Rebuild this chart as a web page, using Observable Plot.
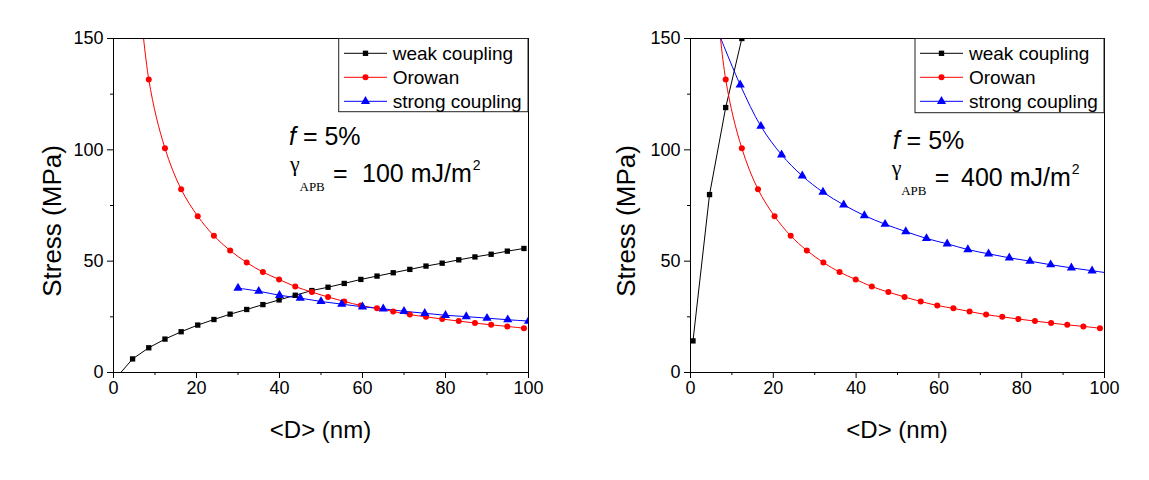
<!DOCTYPE html>
<html>
<head>
<meta charset="utf-8">
<script src="https://cdn.jsdelivr.net/npm/d3@7"></script>
<script src="https://cdn.jsdelivr.net/npm/@observablehq/plot@0.6"></script>
<style>
  html, body { margin: 0; padding: 0; background: #fff; }
  #wrap { position: relative; width: 1149px; height: 480px; background: #fff; overflow: hidden; }
  .panel { position: absolute; top: 0; }
</style>
</head>
<body>
<div id="wrap">
  <div id="left" class="panel" style="left:0px"></div>
  <div id="right" class="panel" style="left:574px"></div>
</div>
<script>
// ---------- data ----------
const dGrid = [0.6, 4.6, 8.5, 12.4, 16.3, 20.3, 24.2, 28.1, 32.1, 36.0, 39.9, 43.8, 47.8,
               51.7, 55.6, 59.6, 63.5, 67.4, 71.4, 75.3, 79.2, 83.2, 87.1, 91.0, 94.9, 98.9];

// left panel (gamma_APB = 100 mJ/m2)
const weakLeftY = [-2.5, 6.1, 11.1, 15.0, 18.3, 21.3, 23.8, 26.2, 28.3, 30.5, 32.6, 34.7, 36.8,
                   38.3, 40.0, 41.8, 43.3, 44.8, 46.3, 47.8, 49.1, 50.6, 51.9, 53.1, 54.5, 55.7];
const orowanD = dGrid.slice(1);
const orowanY = [206, 131.6, 100.7, 82.3, 70.2, 61.4, 54.8, 49.4, 45.1, 41.8, 38.6, 36.1, 33.9,
                 31.9, 30.1, 28.8, 27.4, 26.0, 25.0, 24.0, 23.1, 22.2, 21.4, 20.7, 19.9];
const strongLeftD = [30, 35, 40, 45, 50, 55, 60, 65, 70, 75, 80, 85, 90, 95, 100];
const strongLeftY = [37.9, 36.5, 34.7, 33.4, 31.9, 30.7, 29.5, 28.6, 27.5, 26.6, 25.7, 25.1, 24.4, 23.7, 23.1];

// right panel (gamma_APB = 400 mJ/m2)
const weakRightD = [0.6, 4.6, 8.5, 12.4];
const weakRightY = [14.2, 79.9, 119.0, 150.0];
const strongRightD = [7, 12, 17, 22, 27, 32, 37, 42, 47, 52, 57, 62, 67, 72, 77, 82, 87, 92, 97, 102];
const strongRightY = [151.5, 129.2, 110.6, 97.8, 88.3, 81.0, 75.3, 70.5, 66.6, 63.3, 60.2, 57.8,
                      55.2, 53.3, 51.5, 50.0, 48.4, 47.0, 45.7, 44.4];

const xMajor = [0, 20, 40, 60, 80, 100];
const xMinor = [10, 30, 50, 70, 90];
const yMajor = [0, 50, 100, 150];
const yMinor = [25, 75, 125];

const seriesNames = ["weak coupling", "Orowan", "strong coupling"];
const seriesColors = ["#000000", "#ff0000", "#0000ff"];
const seriesSymbols = ["square", "circle", "triangle"];
const seriesR = [3, 3, 3.4];

const xLabel = "<D> (nm)";
const yLabel = "Stress (MPa)";

function pts(xs, ys) { return xs.map((x, i) => ({x, y: ys[i]})); }

const SANS = "'Liberation Sans', Arial, sans-serif";
const SERIF = "'Liberation Serif', 'Times New Roman', serif";

function panel(cfg) {
  const series = [
    {data: pts(cfg.weakD, cfg.weakY), curve: "linear"},
    {data: pts(orowanD, orowanY), curve: "catmull-rom"},
    {data: pts(cfg.strongD, cfg.strongY), curve: "catmull-rom"}
  ];
  const marks = [
    Plot.axisX({ticks: xMajor, tickSize: 6, tickPadding: 3, label: null, stroke: "black"}),
    Plot.axisX({ticks: xMinor, tickSize: 3, tickFormat: () => "", label: null, stroke: "black"}),
    Plot.axisY({ticks: yMajor, tickSize: 6, tickPadding: 4, label: null, stroke: "black"}),
    Plot.axisY({ticks: yMinor, tickSize: 3, tickFormat: () => "", label: null, stroke: "black"})
  ];
  series.forEach((s, i) => {
    marks.push(Plot.line(s.data, {x: "x", y: "y", stroke: seriesColors[i], strokeWidth: 1, curve: s.curve, clip: true}));
  });
  series.forEach((s, i) => {
    marks.push(Plot.dot(s.data, {x: "x", y: "y", symbol: seriesSymbols[i], r: seriesR[i], fill: seriesColors[i], stroke: "none", clip: true}));
  });
  marks.push(Plot.frame({stroke: "black", strokeWidth: 1}));

  const chart = Plot.plot({
    width: cfg.width, height: 480,
    marginLeft: cfg.marginLeft, marginRight: cfg.marginRight, marginTop: 38, marginBottom: 108,
    style: {fontFamily: SANS, fontSize: "18px", color: "black", background: "transparent", overflow: "visible"},
    x: {domain: [0, 100], label: null},
    y: {domain: [0, 150], label: null},
    marks
  });

  const svg = d3.select(chart);
  const xs = chart.scale("x");
  const x0 = xs.range[0], x1 = xs.range[1];

  function txt(parent, x, y, size, family, s) {
    return parent.append("text").attr("x", x).attr("y", y).attr("font-size", size)
      .attr("font-family", family).attr("fill", "black").attr("text-anchor", "start").text(s);
  }

  // axis titles
  svg.append("text").attr("x", (x0 + x1) / 2).attr("y", 438)
    .attr("text-anchor", "middle").attr("font-size", 24).attr("font-family", SANS).attr("fill", "black")
    .text(xLabel);
  svg.append("text").attr("transform", `translate(52,221) rotate(-90)`)
    .attr("text-anchor", "middle").attr("dominant-baseline", "central")
    .attr("font-size", 26).attr("font-family", SANS).attr("fill", "black")
    .text(yLabel);

  // legend
  const L = cfg.legend;
  const g = svg.append("g");
  g.append("rect").attr("x", L.x).attr("y", 38.5).attr("width", x1 - L.x).attr("height", L.bottom - 38.5)
    .attr("fill", "white").attr("stroke", "#222").attr("stroke-width", 1);
  seriesNames.forEach((name, i) => {
    const yy = 53.3 + i * 24;
    g.append("line").attr("x1", L.lx1).attr("x2", L.lx2).attr("y1", yy).attr("y2", yy)
      .attr("stroke", seriesColors[i]).attr("stroke-width", 1);
    const sym = {square: d3.symbolSquare, circle: d3.symbolCircle, triangle: d3.symbolTriangle}[seriesSymbols[i]];
    g.append("path").attr("d", d3.symbol(sym, Math.PI * seriesR[i] * seriesR[i])())
      .attr("transform", `translate(${(L.lx1 + L.lx2) / 2},${yy})`).attr("fill", seriesColors[i]);
    txt(g, L.tx, yy + 6.5, 19, SANS, name);
  });

  // annotation
  const A = cfg.ann;
  const t1 = txt(svg, A.fx, A.fy, 25, SANS, "");
  t1.append("tspan").attr("font-style", "italic").text("f");
  t1.append("tspan").text(" = 5%");
  txt(svg, A.gx, A.by - 11, 22, SERIF, "γ");
  txt(svg, A.gx + 9.5, A.by + 9.5, 13, SERIF, "APB");
  txt(svg, A.gx + 43, A.by, 25, SANS, "=");
  const t2 = txt(svg, A.nx, A.by, 25, SANS, "");
  t2.append("tspan").text(A.text);
  t2.append("tspan").attr("font-size", 14).attr("dx", 1).attr("dy", -12).text("2");

  return chart;
}

document.getElementById("left").append(panel({
  width: 574, marginLeft: 113, marginRight: 46,
  weakD: dGrid, weakY: weakLeftY, strongD: strongLeftD, strongY: strongLeftY,
  legend: {x: 338.7, bottom: 111.7, lx1: 344, lx2: 387, tx: 392.7},
  ann: {fx: 289, fy: 145, gx: 290, by: 181.5, nx: 362, text: "100 mJ/m"}
}));
document.getElementById("right").append(panel({
  width: 575, marginLeft: 116, marginRight: 45,
  weakD: weakRightD, weakY: weakRightY, strongD: strongRightD, strongY: strongRightY,
  legend: {x: 341, bottom: 112.7, lx1: 346, lx2: 389, tx: 395},
  ann: {fx: 318.7, fy: 148.5, gx: 317.7, by: 185.7, nx: 387, text: "400 mJ/m"}
}));
</script>
</body>
</html>
